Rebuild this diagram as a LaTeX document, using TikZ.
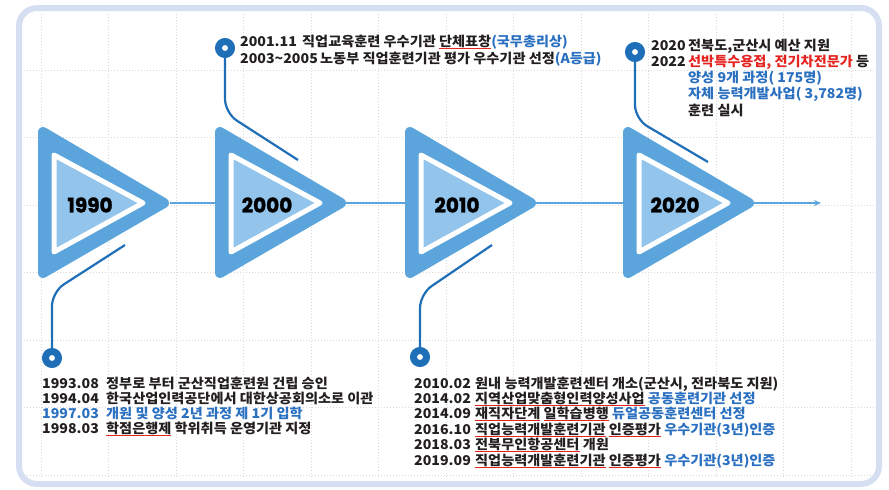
\documentclass[tikz,border=0pt]{standalone}
\usepackage{fontspec}
\setmainfont{Noto Sans CJK KR}[FakeStretch=1.05]
\newfontfamily\yearfont{Poppins}[BoldFeatures={FakeBold=1.6}]
\usetikzlibrary{arrows.meta,positioning}
\definecolor{framelav}{HTML}{D6DFF2}
\definecolor{triblue}{HTML}{5BA4DC}
\definecolor{trilight}{HTML}{93C4EB}
\definecolor{pinblue}{HTML}{1F6EB8}
\definecolor{txtblack}{HTML}{231F20}
\definecolor{txtblue}{HTML}{2B70C0}
\definecolor{txtred}{HTML}{E52421}
\newcommand{\redul}[1]{\setbox0\hbox{#1}\rlap{\color{txtred}\rule[-2.4pt]{\wd0}{0.9pt}}\box0\relax}

\begin{document}
\begin{tikzpicture}[
    x=1pt, y=-1pt,
    font=\bfseries\fontsize{13.5}{15}\selectfont,
    >={Stealth[length=7pt,width=6pt]},
    gridline/.style={gray!30, line width=0.6pt, dash pattern=on 1pt off 2pt},
    triout/.style={fill=triblue, draw=triblue, line width=10pt, line join=round},
    triin/.style={fill=trilight, draw=white, line width=5pt, line join=round},
    year/.style={font=\yearfont\bfseries\fontsize{20}{20}\selectfont, text=black},
    pinhead/.style={circle, draw=pinblue, fill=white, line width=7pt, minimum size=13pt, inner sep=0pt},
    pinline/.style={line width=2.2pt, draw=pinblue, rounded corners=14pt},
    note/.style={anchor=base west, inner sep=0pt, text=txtblack},
    axis/.style={->, line width=2pt, draw=triblue}
]
\useasboundingbox (0,0) rectangle (889,490);

% background grid
\foreach \gx in {0,...,12} \draw[gridline] (41+67.5*\gx,14) -- (41+67.5*\gx,478);
\foreach \gy in {0,...,6} \draw[gridline] (24,70+67.5*\gy) -- (874,70+67.5*\gy);

% frame
\draw[framelav, line width=6pt, rounded corners=18pt] (19,8) rectangle (879,484);

% time axis
\coordinate (tip1990) at (170,203);
\coordinate (axisend) at (821,203);
\draw[axis] (tip1990) -- (axisend);

% decade triangles
\foreach \L/\yr in {38/1990, 215/2000, 405/2010, 623/2020} {
  \filldraw[triout] (\L+5,132) -- (\L+5,273) -- (\L+126,203) -- cycle;
  \filldraw[triin] (\L+16,155) -- (\L+16,252) -- (\L+105,203) -- cycle;
  \node[year] (y\yr) at (\L+52,205) {\yr};
}

% pins
\foreach \yr/\px/\py/\ky/\ex/\ey in {1990/52/358/292/125/245, 2000/225/48/113/298/160,
                                     2010/420/357/294/492/245, 2020/635/52/119/708/162} {
  \node[pinhead] (pin\yr) at (\px,\py) {};
  \coordinate (end\yr) at (\ex,\ey);
  \draw[pinline] (pin\yr) -- (\px,\ky) -- (end\yr);
}

% 2000 notes
\foreach \t [count=\i] in {
  {\makebox[62pt][l]{2001.11}직업교육훈련 우수기관 \redul{단체표창}\textcolor{txtblue}{(국무총리상)}},
  {\makebox[80pt][l]{2003{\char"007E}2005}노동부 직업훈련기관 평가 우수기관 선정\textcolor{txtblue}{(A등급)}}}
  \node[note] (n2000-\i) at (240,46+17.5*\i-17.5) {\t};

% 2020 notes
\foreach \t [count=\i] in {
  {\makebox[37pt][l]{2020}전북도,군산시 예산 지원},
  {\makebox[37pt][l]{2022}\textcolor{txtred}{선박특수용접, 전기차전문가} 등},
  {\hspace*{37pt}\textcolor{txtblue}{양성 9개 과정( 175명)}},
  {\hspace*{37pt}\textcolor{txtblue}{자체 능력개발사업( 3,782명)}},
  {\hspace*{37pt}훈련 실시}}
  \node[note] (n2020-\i) at (651,50+16.25*\i-16.25) {\t};

% 1990 notes
\foreach \t [count=\i] in {
  {\makebox[64pt][l]{1993.08}정부로 부터 군산직업훈련원 건립 승인},
  {\makebox[64pt][l]{1994.04}한국산업인력공단에서 대한상공회의소로 이관},
  {\color{txtblue}\makebox[64pt][l]{1997.03}개원 및 양성 2년 과정 제 1기 입학},
  {\makebox[64pt][l]{1998.03}\redul{학점은행제} 학위취득 운영기관 지정}}
  \node[note] (n1990-\i) at (42,388+15*\i-15) {\t};

% 2010 notes
\foreach \t [count=\i] in {
  {\makebox[61pt][l]{2010.02}원내 능력개발훈련센터 개소(군산시, 전라북도 지원)},
  {\makebox[61pt][l]{2014.02}\redul{지역산업맞춤형인력양성사업} \textcolor{txtblue}{공동훈련기관 선정}},
  {\makebox[61pt][l]{2014.09}\redul{재직자단계} \redul{일학습병행} \textcolor{txtblue}{듀얼공동훈련센터 선정}},
  {\makebox[61pt][l]{2016.10}\redul{직업능력개발훈련기관} \redul{인증평가} \textcolor{txtblue}{우수기관(3년)인증}},
  {\makebox[61pt][l]{2018.03}\redul{전북무인항공센터} 개원},
  {\makebox[61pt][l]{2019.09}\redul{직업능력개발훈련기관} \redul{인증평가} \textcolor{txtblue}{우수기관(3년)인증}}}
  \node[note] (n2010-\i) at (414,388+15.4*\i-15.4) {\t};
\end{tikzpicture}
\end{document}
